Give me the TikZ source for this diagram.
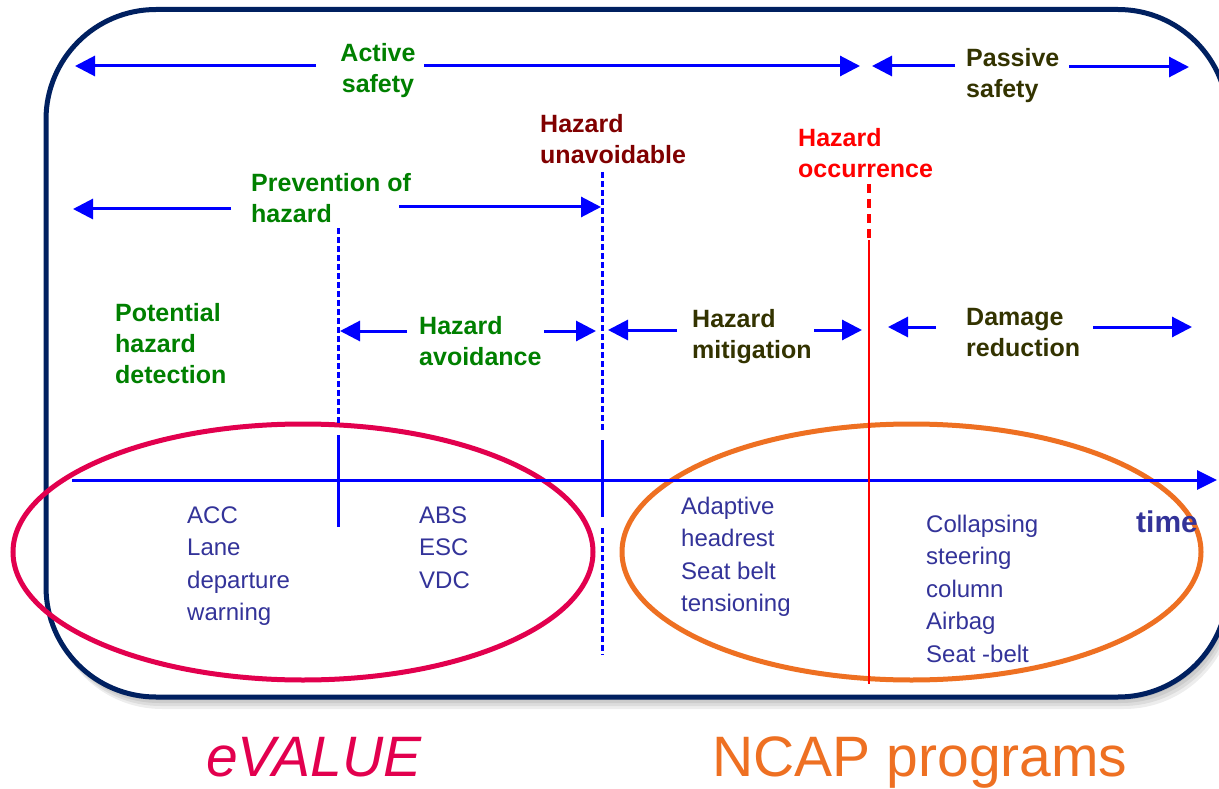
\documentclass[tikz,border=0pt]{standalone}
\usepackage{fontspec}
\setmainfont{Liberation Sans}
\usetikzlibrary{arrows.meta}
\definecolor{cgreen}{RGB}{0,128,0}
\definecolor{cdred}{RGB}{128,0,0}
\definecolor{colive}{RGB}{51,51,0}
\definecolor{citem}{RGB}{51,51,153}
\definecolor{cblue}{RGB}{0,0,255}
\definecolor{cred}{RGB}{255,0,0}
\definecolor{ccrim}{RGB}{226,0,78}
\definecolor{corange}{RGB}{238,112,34}
\definecolor{cnavy}{RGB}{0,32,96}
\begin{document}
\begin{tikzpicture}[x=1pt,y=-1pt,
  lbl/.style={font=\bfseries\fontsize{25}{31}\selectfont, align=left, inner sep=0pt, anchor=north west},
  item/.style={font=\fontsize{24}{32.5}\selectfont, text=citem, align=left, inner sep=0pt, anchor=north west},
  harrow/.style={draw=cblue, line width=3pt, -{Triangle[length=20pt,width=20pt]}},
  vdash/.style={draw=cblue, line width=3pt, dash pattern=on 6pt off 3pt},
  vsolid/.style={draw=cblue, line width=3pt},
  ring/.style={line width=5pt},
  bigtext/.style={font=\fontsize{57}{57}\selectfont, inner sep=0pt, anchor=base}]
\useasboundingbox (0,0) rectangle (1219,789);
\clip (0,0) rectangle (1219,789);
\fill[white] (0,0) rectangle (1219,789);
% shadow
\foreach \d in {3,6,9,12}
  \fill[black, opacity=0.07, rounded corners=110pt] (46+\d/2,9.5+\d) rectangle (1228+\d/2,697+\d);
% frame
\draw[cnavy, line width=5pt, fill=white, rounded corners=110pt] (46,9.5) rectangle (1228,697);
% ellipses
\draw[ring, ccrim] (303,552) ellipse [x radius=290, y radius=128];
\draw[ring, corange] (911.5,552) ellipse [x radius=289.5, y radius=128];
% time axis
\coordinate (ax0) at (72,480);
\coordinate (ax1) at (1217,480);
\draw[draw=cblue, line width=3pt, -{Triangle[length=20pt,width=19pt]}] (ax0) -- (ax1);
% vertical markers
\coordinate (v1a) at (338,228); \coordinate (v1b) at (338,423);
\coordinate (v1c) at (338,435); \coordinate (v1d) at (338,527);
\draw[vdash] (v1a) -- (v1b);
\draw[vsolid] (v1c) -- (v1d);
\coordinate (v2a) at (602,172); \coordinate (v2b) at (602,430);
\coordinate (v2c) at (602,440); \coordinate (v2d) at (602,517);
\coordinate (v2e) at (602,528); \coordinate (v2f) at (602,655);
\draw[vdash] (v2a) -- (v2b);
\draw[vsolid] (v2c) -- (v2d);
\draw[vdash] (v2e) -- (v2f);
\coordinate (r1) at (869,184); \coordinate (r2) at (869,238);
\coordinate (r3) at (869,240); \coordinate (r4) at (869,684);
\draw[cred, line width=4pt, dash pattern=on 9pt off 6pt] (r1) -- (r2);
\draw[cred, line width=2.5pt] (r3) -- (r4);
% labels
\node[lbl, text=cgreen, align=center, anchor=north] (act) at (378,43) {Active\\safety};
\node[lbl, text=colive] (pas) at (966,48) {Passive\\safety};
\node[lbl, text=cdred] (unav) at (540,114) {Hazard\\unavoidable};
\node[lbl, text=cred] (occ) at (798,128) {Hazard\\occurrence};
\node[lbl, text=cgreen] (prev) at (251,173) {Prevention of\\hazard};
\node[lbl, text=cgreen] (pot) at (115,303) {Potential\\hazard\\detection};
\node[lbl, text=cgreen] (avo) at (419,316) {Hazard\\avoidance};
\node[lbl, text=colive] (mit) at (692,309) {Hazard\\mitigation};
\node[lbl, text=colive] (dam) at (966,308) {Damage\\reduction};
% interval arrows
\coordinate (a1t) at (316,66); \coordinate (a1h) at (75,66);
\coordinate (a2t) at (424,66); \coordinate (a2h) at (860,66);
\coordinate (a3t) at (955,66); \coordinate (a3h) at (872,66);
\coordinate (a4t) at (1069,67); \coordinate (a4h) at (1189,67);
\coordinate (a5t) at (231,209); \coordinate (a5h) at (73,209);
\coordinate (a6t) at (399,207); \coordinate (a6h) at (601,207);
\coordinate (a7t) at (407,331); \coordinate (a7h) at (340,331);
\coordinate (a8t) at (544,331); \coordinate (a8h) at (596,331);
\coordinate (a9t) at (677,330); \coordinate (a9h) at (608,330);
\coordinate (a10t) at (814,330); \coordinate (a10h) at (862,330);
\coordinate (a11t) at (936,327); \coordinate (a11h) at (888,327);
\coordinate (a12t) at (1093,327); \coordinate (a12h) at (1192,327);
\foreach \i in {1,...,12} \draw[harrow] (a\i t) -- (a\i h);
% items
\node[item] (acc) at (187,506.5) {ACC\\Lane\\departure\\warning};
\node[item] (abs) at (419,506.5) {ABS\\ESC\\VDC};
\node[item] (adap) at (681,496.5) {Adaptive\\headrest\\Seat belt\\tensioning};
\node[item] (coll) at (926,514.5) {Collapsing\\steering\\column\\Airbag\\Seat -belt};
\node[font=\bfseries\fontsize{30}{30}\selectfont, text=citem, inner sep=0pt, anchor=base west] (time) at (1136,532) {time};
% programme names
\node[bigtext, text=ccrim, font=\itshape\fontsize{57}{57}\selectfont] (ev) at (314,776) {eVALUE};
\node[bigtext, text=corange] (ncap) at (920,776) {NCAP programs};
\end{tikzpicture}
\end{document}
